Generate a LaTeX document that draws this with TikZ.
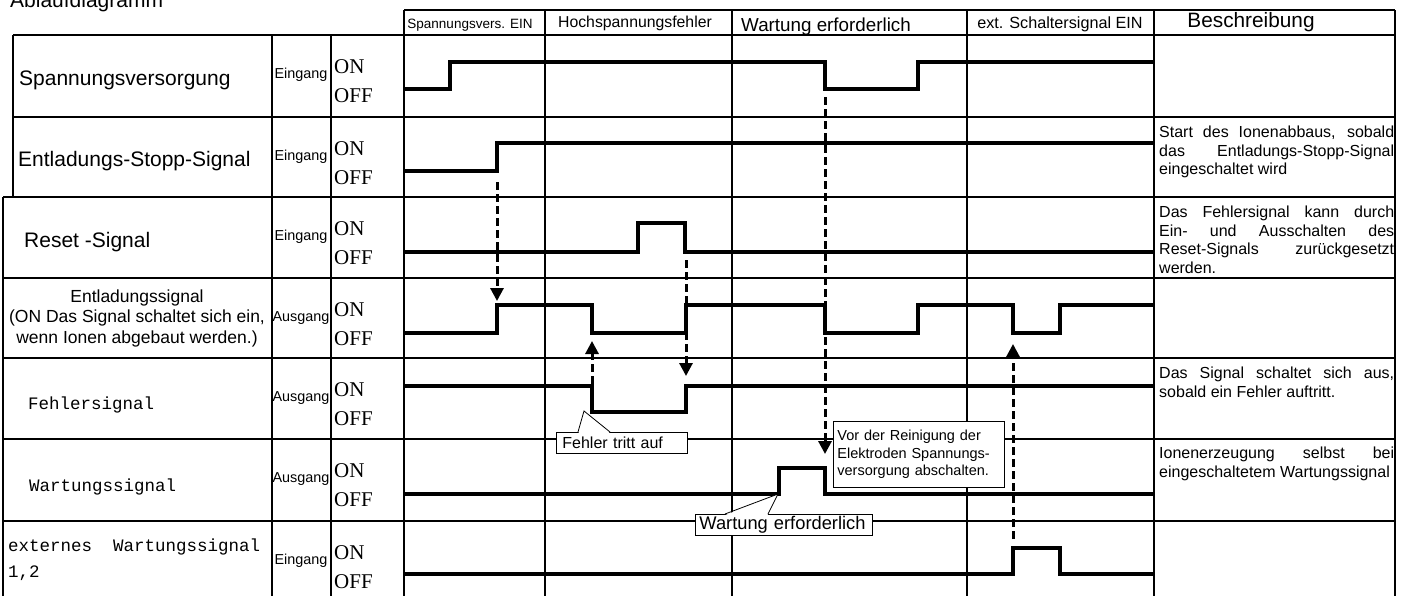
\documentclass[tikz,border=0pt]{standalone}
\usepackage{fontspec}
\setmainfont{Liberation Sans}
\newfontfamily\levelfont{Liberation Serif}
\newfontfamily\monofont{Liberation Mono}
\usetikzlibrary{positioning, arrows.meta}

% Zeile mit gedehnten Wortabstaenden (Blocksatz)
\newcommand{\blockzeile}[2]{\makebox[#1][s]{#2}}

\begin{document}
\begin{tikzpicture}[
    x=1pt, y=-1pt,
    grid/.style={line width=2pt},
    gridthin/.style={line width=1.5pt},
    signal/.style={line width=3.5pt, line join=miter},
    trigger/.style={line width=3pt, dash pattern=on 8pt off 4pt, -{Triangle[length=13pt, width=13pt]}},
    rowlabel/.style={anchor=west, inner sep=0pt, font=\fontsize{21}{25}\selectfont},
    monolabel/.style={anchor=west, inner sep=0pt, align=left, font=\monofont\fontsize{17.5}{26}\selectfont},
    iolabel/.style={inner sep=0pt, font=\fontsize{14.4}{16}\selectfont},
    levellabel/.style={anchor=west, inner sep=0pt, font=\levelfont\fontsize{21}{24}\selectfont},
    headlabel/.style={anchor=base, inner sep=0pt},
    desc/.style={anchor=north west, inner sep=0pt, align=left, font=\fontsize{16}{18.5}\selectfont},
    callbox/.style={draw, line width=0.8pt, fill=white, anchor=north west, inner ysep=0pt, align=left}
]
\useasboundingbox (0,0) rectangle (1406,595);

% Titel
\node[anchor=base west, inner sep=0pt, font=\fontsize{21}{25}\selectfont] (titel) at (10,7) {Ablaufdiagramm};

% Kopfzeile
\draw[grid] (404,10) -- (1395,10);
\node[headlabel, font=\fontsize{13.5}{15}\selectfont] (h1) at (470,28) {Spannungsvers. EIN};
\node[headlabel, font=\fontsize{15.8}{17}\selectfont] (h2) at (635,27) {Hochspannungsfehler};
\node[headlabel, font=\fontsize{18.8}{20}\selectfont] (h3) at (826,31) {Wartung erforderlich};
\node[headlabel, font=\fontsize{16.2}{18}\selectfont] (h4) at (1060,28) {ext. Schaltersignal EIN};
\node[headlabel, font=\fontsize{20.8}{22}\selectfont] (h5) at (1251,27) {Beschreibung};

% Tabellenraster
\draw[grid] (13,35) -- (1395,35);
\draw[grid] (13,117) -- (1395,117);
\foreach \t in {197,278,358,439,521} {
    \draw[grid] (3,\t) -- (1395,\t);
}
\draw[grid] (13,35) -- (13,197);
\draw[grid] (3,197) -- (3,600);
\foreach \x in {272,331} {
    \draw[grid] (\x,35) -- (\x,600);
}
\foreach \x in {404,1154,1395} {
    \draw[grid] (\x,10) -- (\x,600);
}
\foreach \x in {545,732,967} {
    \draw[gridthin] (\x,10) -- (\x,600);
}

% Signalnamen
\node[rowlabel] (spv) at (19,80) {Spannungsversorgung};
\node[rowlabel] (ess) at (18,161) {Entladungs-Stopp-Signal};
\node[rowlabel] (rst) at (24,242) {Reset -Signal};
\node[inner sep=0pt, align=center, font=\fontsize{17.5}{20.5}\selectfont] (ent) at (137,318)
    {Entladungssignal\\(ON Das Signal schaltet sich ein,\\wenn Ionen abgebaut werden.)};
\node[monolabel] (fhs) at (28,405) {Fehlersignal};
\node[monolabel] (wts) at (29,487) {Wartungssignal};
\node[monolabel] (ext) at (8,560) {externes\ \ Wartungssignal\\1,2};

% Eingang / Ausgang und ON / OFF
\foreach \t/\typ [count=\i] in {35/Eingang,117/Eingang,197/Eingang,278/Ausgang,358/Ausgang,439/Ausgang,521/Eingang} {
    \node[iolabel] (io\i) at (301,\t+40) {\typ};
    \node[levellabel] (on\i) at (334,\t+32) {ON};
    \node[levellabel] (off\i) at (334,\t+61) {OFF};
}

% Signalverlaeufe
\draw[signal] (404,89) -- (450,89) -- (450,62) -- (825,62) -- (825,89) -- (918,89) -- (918,62) -- (1154,62);
\draw[signal] (404,171) -- (497,171) -- (497,143) -- (1154,143);
\draw[signal] (404,252) -- (638,252) -- (638,223) -- (685,223) -- (685,252) -- (1154,252);
\draw[signal] (404,333) -- (497,333) -- (497,305) -- (592,305) -- (592,333) -- (686,333) -- (686,305)
    -- (825,305) -- (825,333) -- (918,333) -- (918,305) -- (1013,305) -- (1013,333) -- (1060,333)
    -- (1060,305) -- (1154,305);
\draw[signal] (404,386) -- (592,386) -- (592,412) -- (686,412) -- (686,386) -- (1154,386);
\draw[signal] (404,494) -- (779,494) -- (779,468) -- (825,468) -- (825,494) -- (1154,494);
\draw[signal] (404,574) -- (1013,574) -- (1013,548) -- (1060,548) -- (1060,574) -- (1154,574);

% Ausloeser (gestrichelte Pfeile)
\coordinate (a1s) at (497,182);  \coordinate (a1e) at (497,301);
\coordinate (a2s) at (592,384);  \coordinate (a2e) at (592,341);
\coordinate (a3s) at (686,260);  \coordinate (a3e) at (686,376);
\coordinate (a4s) at (825,97);   \coordinate (a4e) at (825,454);
\coordinate (a5s) at (1013,539); \coordinate (a5e) at (1013,344);
\foreach \k in {1,...,5} {
    \draw[trigger] (a\k s) -- (a\k e);
}

% Beschreibungen
\node[desc] (d2) at (1159,126) {\blockzeile{235pt}{Start des Ionenabbaus, sobald}\\
    \blockzeile{235pt}{das Entladungs-Stopp-Signal}\\eingeschaltet wird};
\node[desc] (d3) at (1159,206) {\blockzeile{235pt}{Das Fehlersignal kann durch}\\
    \blockzeile{235pt}{Ein- und Ausschalten des}\\
    \blockzeile{235pt}{Reset-Signals zurückgesetzt}\\werden.};
\node[desc] (d5) at (1159,367) {\blockzeile{235pt}{Das Signal schaltet sich aus,}\\sobald ein Fehler auftritt.};
\node[desc] (d6) at (1159,447) {\blockzeile{235pt}{Ionenerzeugung selbst bei}\\eingeschaltetem Wartungssignal};

% Hinweise
\node[callbox, text width=119pt, inner xsep=6pt, minimum height=21pt, font=\fontsize{16}{18}\selectfont]
    (fehlerbox) at (556,432) {Fehler tritt auf};
\coordinate (fehlertip) at (584,411);
\fill[white] (578.6,432.9) -- (fehlertip) -- (609.6,432.9) -- cycle;
\draw[line width=0.8pt] (578,432) -- (fehlertip) -- (610,432);

\node[callbox, text width=169pt, inner xsep=4pt, minimum height=21pt, font=\fontsize{18.3}{20}\selectfont]
    (wartungbox) at (695,514) {Wartung erforderlich};
\coordinate (wartungtip) at (778,494);
\fill[white] (725.6,514.9) -- (wartungtip) -- (767.6,514.9) -- cycle;
\draw[line width=0.8pt] (725,514) -- (wartungtip) -- (768,514);

\node[callbox, text width=163pt, inner xsep=4pt, minimum height=66pt, font=\fontsize{14.5}{17.5}\selectfont]
    (reinigung) at (833,421) {\blockzeile{155pt}{Vor der Reinigung der}\\Elektroden Spannungs-\\versorgung abschalten.};

\end{tikzpicture}
\end{document}
